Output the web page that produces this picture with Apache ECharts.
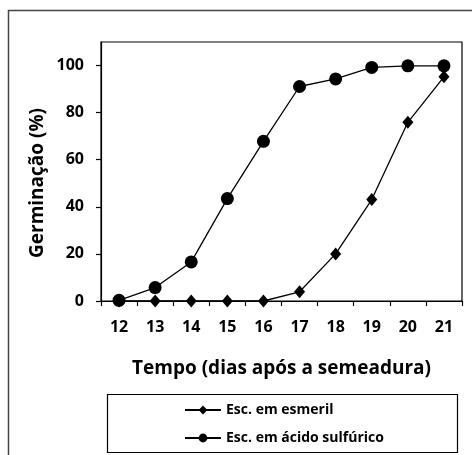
<!DOCTYPE html>
<html>
<head>
<meta charset="utf-8">
<script src="https://cdn.jsdelivr.net/npm/echarts@6/dist/echarts.min.js"></script>
<style>
    html, body { margin: 0; padding: 0; background: #fff; }
    #chart { width: 472px; height: 455px; }
</style>
</head>
<body>
<div id="chart"></div>
<script>
    // dias apos a semeadura
    var dias = ['12', '13', '14', '15', '16', '17', '18', '19', '20', '21'];
    var esmeril = [0, 0, 0, 0, 0, 3.9, 20, 43.1, 75.9, 95.2];
    var acidoSulfurico = [0.3, 5.7, 16.6, 43.5, 67.8, 91.1, 94.3, 99.2, 99.9, 99.9];
    var yTicks = [0, 20, 40, 60, 80, 100];

    var fontFam = '"Open Sans", sans-serif';

    var chart = echarts.init(document.getElementById('chart'));
    chart.setOption({
        animation: false,
        textStyle: { fontFamily: fontFam },
        grid: {
            left: 101,
            right: 10,
            top: 42,
            bottom: 154,
            show: true,
            borderColor: '#000',
            borderWidth: 1.2
        },
        xAxis: {
            type: 'category',
            data: dias,
            boundaryGap: true,
            name: 'Tempo (dias após a semeadura)',
            nameLocation: 'middle',
            nameGap: 58,
            nameTextStyle: { color: '#000', fontSize: 19, fontWeight: 'bold', fontFamily: fontFam },
            axisLine: { lineStyle: { color: '#000', width: 1.2 } },
            axisTick: { show: true, length: 5, lineStyle: { color: '#000', width: 1.2 } },
            axisLabel: { color: '#000', fontSize: 16, fontWeight: 'bold', margin: 18 },
            splitLine: { show: false }
        },
        yAxis: {
            type: 'value',
            min: 0,
            max: 110,
            interval: 20,
            axisLine: { show: true, lineStyle: { color: '#000', width: 1.2 } },
            axisTick: { show: true, length: 5, lineStyle: { color: '#000', width: 1.2 } },
            axisLabel: {
                color: '#000', fontSize: 16, fontWeight: 'bold', margin: 17,
                showMaxLabel: false,
                formatter: function (v) { return yTicks.indexOf(v) >= 0 ? String(v) : ''; }
            },
            splitLine: { show: false }
        },
        legend: {
            orient: 'vertical',
            left: 184,
            top: 403,
            padding: 0,
            itemWidth: 36,
            itemHeight: 11,
            itemGap: 14,
            textStyle: { color: '#000', fontSize: 14, fontWeight: 'bold', fontFamily: fontFam },
            data: ['Esc. em esmeril', 'Esc. em ácido sulfúrico']
        },
        graphic: [
            {
                type: 'rect',
                shape: { x: 8.5, y: 10.5, width: 520, height: 520 },
                style: { fill: 'none', stroke: '#444', lineWidth: 1.5 },
                silent: true
            },
            {
                type: 'rect',
                shape: { x: 107.5, y: 394.5, width: 350, height: 58 },
                style: { fill: 'none', stroke: '#000', lineWidth: 1.2 },
                silent: true
            },
            {
                type: 'text',
                x: 38,
                y: 183,
                rotation: Math.PI / 2,
                style: {
                    text: 'Germinação (%)',
                    fill: '#000',
                    font: 'bold 19px "Open Sans", sans-serif',
                    align: 'center',
                    verticalAlign: 'middle'
                },
                silent: true
            }
        ],
        series: [
            {
                name: 'Esc. em esmeril',
                type: 'line',
                data: esmeril,
                symbol: 'diamond',
                symbolSize: [11, 13],
                itemStyle: { color: '#000' },
                lineStyle: { color: '#000', width: 1.3 },
                z: 3
            },
            {
                name: 'Esc. em ácido sulfúrico',
                type: 'line',
                data: acidoSulfurico,
                symbol: 'circle',
                symbolSize: 13,
                itemStyle: { color: '#000' },
                lineStyle: { color: '#000', width: 1.3 },
                z: 2
            }
        ]
    });
</script>
</body>
</html>
